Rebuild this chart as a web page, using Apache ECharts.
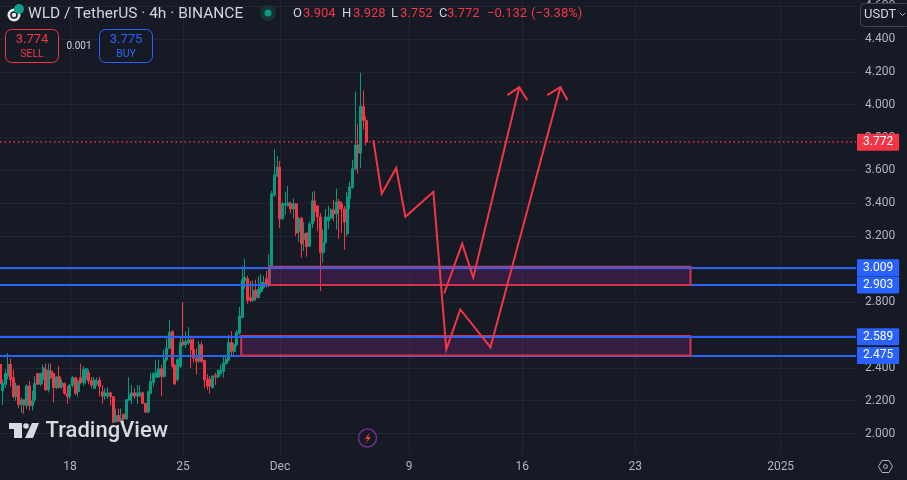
<!DOCTYPE html>
<html lang="en">
<head>
    <meta charset="UTF-8">
    <title>WLD / TetherUS</title>
    <script src="https://cdn.jsdelivr.net/npm/echarts@6/dist/echarts.min.js"></script>
    <style>
        html, body { margin: 0; padding: 0; background: #161a25; }
        #chart { width: 907px; height: 480px; }
    </style>
</head>
<body>
<div id="chart"></div>
<script type="text/javascript">
    // candles (4h bars, oldest first)
    var opens = [
        2.42,2.26,2.30,2.35,2.42,2.34,2.225,2.29,2.175,2.205,
        2.17,2.29,2.17,2.205,2.365,2.30,2.33,2.39,2.265,2.38,
        2.365,2.28,2.345,2.285,2.305,2.245,2.225,2.295,2.34,2.255,
        2.34,2.31,2.33,2.37,2.322,2.275,2.30,2.326,2.254,2.228,
        2.228,2.248,2.224,2.074,2.11,2.074,2.117,2.09,2.203,2.228,
        2.248,2.228,2.228,2.248,2.183,2.131,2.245,2.31,2.343,2.343,
        2.394,2.348,2.449,2.519,2.62,2.418,2.327,2.408,2.56,2.54,
        2.55,2.57,2.51,2.46,2.44,2.54,2.445,2.33,2.33,2.279,
        2.355,2.345,2.365,2.378,2.425,2.445,2.554,2.50,2.54,2.61,
        2.706,2.93,2.942,2.827,2.81,2.87,2.827,2.864,2.888,2.942,
        2.90,3.015,3.45,3.567,3.62,3.306,3.39,3.385,3.40,3.366,
        3.397,3.23,3.31,3.18,3.22,3.14,3.275,3.415,3.385,3.318,
        3.10,3.16,3.295,3.31,3.36,3.336,3.41,3.396,3.366,3.215,
        3.43,3.495,3.61,3.755,3.706,3.99,3.904
    ];
    var closes = [
        2.305,2.305,2.365,2.42,2.33,2.225,2.29,2.175,2.205,2.175,
        2.29,2.17,2.20,2.305,2.30,2.365,2.40,2.265,2.385,2.34,
        2.28,2.345,2.28,2.31,2.245,2.225,2.295,2.34,2.245,2.32,
        2.31,2.39,2.395,2.32,2.295,2.326,2.32,2.285,2.228,2.248,
        2.248,2.224,2.07,2.11,2.074,2.09,2.09,2.207,2.234,2.248,
        2.228,2.248,2.248,2.183,2.131,2.254,2.316,2.367,2.372,2.394,
        2.348,2.449,2.519,2.616,2.412,2.303,2.449,2.554,2.54,2.56,
        2.57,2.51,2.46,2.44,2.54,2.44,2.327,2.29,2.29,2.35,
        2.345,2.385,2.385,2.43,2.45,2.554,2.50,2.543,2.616,2.715,
        2.936,2.95,2.81,2.81,2.87,2.827,2.88,2.918,2.918,2.90,
        3.02,3.457,3.573,3.62,3.306,3.397,3.40,3.403,3.366,3.397,
        3.22,3.306,3.154,3.215,3.136,3.275,3.415,3.35,3.318,3.10,
        3.16,3.318,3.318,3.36,3.336,3.41,3.366,3.366,3.287,3.44,
        3.50,3.61,3.755,3.706,3.99,3.904,3.772
    ];
    var lows = [
        2.285,2.175,2.28,2.33,2.285,2.215,2.20,2.155,2.125,2.12,
        2.15,2.14,2.14,2.19,2.295,2.29,2.30,2.26,2.25,2.33,
        2.19,2.27,2.275,2.27,2.235,2.18,2.21,2.28,2.235,2.225,
        2.30,2.29,2.30,2.30,2.275,2.27,2.29,2.227,2.183,2.205,
        2.21,2.17,2.064,2.064,2.07,2.07,2.064,2.085,2.20,2.18,
        2.21,2.18,2.225,2.18,2.125,2.125,2.24,2.285,2.34,2.34,
        2.228,2.34,2.44,2.51,2.40,2.295,2.317,2.40,2.53,2.52,
        2.54,2.398,2.43,2.36,2.43,2.43,2.277,2.266,2.243,2.275,
        2.297,2.335,2.36,2.34,2.42,2.44,2.47,2.48,2.53,2.60,
        2.70,2.88,2.79,2.80,2.80,2.81,2.82,2.85,2.88,2.888,
        2.89,3.01,3.44,3.56,3.25,3.30,3.33,3.38,3.34,3.31,
        3.20,3.166,3.07,3.11,3.076,3.135,3.25,3.29,3.233,2.866,
        3.04,3.155,3.245,3.31,3.29,3.24,3.185,3.22,3.118,3.20,
        3.366,3.49,3.60,3.58,3.615,3.85,3.752
    ];
    var highs = [
        2.425,2.33,2.39,2.49,2.456,2.39,2.31,2.295,2.22,2.21,
        2.30,2.32,2.26,2.35,2.37,2.37,2.42,2.425,2.425,2.425,
        2.37,2.35,2.41,2.33,2.31,2.29,2.30,2.35,2.345,2.33,
        2.425,2.41,2.40,2.39,2.345,2.345,2.34,2.345,2.295,2.275,
        2.28,2.254,2.228,2.152,2.152,2.152,2.122,2.21,2.343,2.295,
        2.275,2.295,2.295,2.254,2.19,2.26,2.37,2.37,2.445,2.45,
        2.42,2.509,2.59,2.69,2.63,2.42,2.46,2.585,2.80,2.62,
        2.647,2.58,2.58,2.52,2.56,2.56,2.45,2.36,2.35,2.355,
        2.37,2.39,2.42,2.47,2.48,2.60,2.624,2.55,2.63,2.77,
        3.02,3.063,2.96,2.93,2.93,2.936,2.955,2.97,2.96,2.99,
        3.09,3.476,3.73,3.688,3.657,3.41,3.47,3.506,3.41,3.43,
        3.40,3.318,3.318,3.287,3.22,3.29,3.47,3.476,3.385,3.34,
        3.24,3.366,3.385,3.37,3.42,3.49,3.427,3.41,3.385,3.47,
        3.53,3.664,4.08,3.88,4.195,4.088,3.928
    ];

    var barCount = 319;
    var tickIndex = [26, 68, 104, 152, 194, 236, 290];
    var tickLabels = ['18', '25', 'Dec', '9', '16', '23', '2025'];
    var priceTicks = [2.0, 2.2, 2.4, 2.6, 2.8, 3.0, 3.2, 3.4, 3.6, 3.8, 4.0, 4.2, 4.4, 4.6];

    // horizontal levels and the drawn zones
    var lastPrice = 3.772;
    var upperLevels = [3.009, 2.589];
    var lowerLevels = [2.903, 2.475];
    var zoneUpper = [100, 256.5, 3.014, 2.903];
    var zoneLower = [89.6, 256.5, 2.594, 2.475];

    // hand drawn arrows, [bar index, price]
    var waveA = [[138.7,3.785],[141.8,3.458],[147.2,3.615],[150.6,3.318],[161,3.47],[165.8,2.512],[171,2.755],[182.2,2.524],[208.2,4.106]];
    var headA = [[203.3,4.058],[208.2,4.106],[210.8,4.027]];
    var waveB = [[165,2.852],[171.7,3.155],[175.8,2.948],[192.9,4.106]];
    var headB = [[188.5,4.058],[192.9,4.106],[195.9,4.027]];

    var categories = [];
    for (var i = 0; i < barCount; i++) {
        var t = tickIndex.indexOf(i);
        categories.push(t >= 0 ? tickLabels[t] : '');
    }
    var candles = opens.map(function (o, i) {
        return [o, closes[i], lows[i], highs[i]];
    });

    var UP = '#089981', DOWN = '#f23645', BLUE = '#2962ff', BG = '#161a25', GRID = '#232632';
    var FONT = 'Roboto';

    function isTick(index) {
        return tickIndex.indexOf(index) >= 0;
    }

    function tag(color) {
        return {
            show: true, position: 'end', distance: 1,
            formatter: function (p) { return p.value.toFixed(3); },
            color: '#fff', backgroundColor: color,
            fontFamily: FONT, fontSize: 12, lineHeight: 13,
            padding: [2, 6], borderRadius: 1
        };
    }

    function levelLines(values, z) {
        return {
            type: 'line', xAxisIndex: 1, yAxisIndex: 0, data: [], silent: true,
            markLine: {
                silent: true, symbol: 'none', z: z, animation: false, precision: 3,
                data: values.map(function (v) {
                    return {yAxis: v, label: tag(BLUE), lineStyle: {color: BLUE, width: 2, type: 'solid'}};
                })
            }
        };
    }

    function wave(data) {
        return {
            type: 'line', xAxisIndex: 1, yAxisIndex: 0, data: data, z: 6,
            symbol: 'none', silent: true,
            lineStyle: {color: DOWN, width: 2, join: 'miter'}
        };
    }

    function zone(z) {
        return [{coord: [z[0], z[2]]}, {coord: [z[1], z[3]]}];
    }

    function text(x, y, str, color, size, extra) {
        return {
            type: 'text', x: x, y: y, z: 100, silent: true,
            style: Object.assign({
                text: str, fill: color, fontFamily: FONT, fontSize: size, verticalAlign: 'middle'
            }, extra || {})
        };
    }

    function box(x, y, w, h, stroke, fill, r) {
        return {
            type: 'rect', z: 99, silent: true,
            shape: {x: x, y: y, width: w, height: h, r: r},
            style: {stroke: stroke, fill: fill, lineWidth: 1}
        };
    }

    function shape(type, sh, style, z) {
        return {type: type, shape: sh, style: style, z: z || 100, silent: true};
    }

    var overlay = [
        // symbol
        shape('circle', {cx: 14, cy: 15, r: 6.5}, {fill: '#e8e8ea'}),
        shape('circle', {cx: 14, cy: 15, r: 3}, {fill: 'none', stroke: '#161a25', lineWidth: 1.5}),
        shape('circle', {cx: 19, cy: 9, r: 5}, {fill: '#0f9d8a'}),
        text(28, 14, 'WLD / TetherUS · 4h · BINANCE', '#d1d4dc', 15.5),
        shape('circle', {cx: 268, cy: 13, r: 8}, {fill: '#17352f'}),
        shape('circle', {cx: 268, cy: 13, r: 3.5}, {fill: UP}),
        // OHLC
        text(293, 14, 'O', '#d1d4dc', 13), text(303, 14, '3.904', DOWN, 13),
        text(342, 14, 'H', '#d1d4dc', 13), text(353, 14, '3.928', DOWN, 13),
        text(391, 14, 'L', '#d1d4dc', 13), text(400, 14, '3.752', DOWN, 13),
        text(439, 14, 'C', '#d1d4dc', 13), text(447, 14, '3.772', DOWN, 13),
        text(487, 14, '−0.132', DOWN, 13), text(531, 14, '(−3.38%)', DOWN, 13),
        // sell / buy
        box(5.5, 29.5, 53, 33, DOWN, BG, 6),
        text(32, 40, '3.774', DOWN, 13, {align: 'center'}),
        text(32, 54, 'SELL', DOWN, 10.5, {align: 'center'}),
        text(79, 46, '0.001', '#d1d4dc', 10, {align: 'center'}),
        box(99.5, 29.5, 53, 33, BLUE, BG, 6),
        text(126, 40, '3.775', BLUE, 13, {align: 'center'}),
        text(126, 54, 'BUY', BLUE, 10.5, {align: 'center'}),
        // currency button
        box(860.5, 3.5, 50, 23, '#434651', BG, 4),
        text(864, 15, 'USDT', '#d1d4dc', 13),
        shape('polyline', {points: [[900, 13], [902.5, 15.5], [905, 13]]}, {stroke: '#b2b5be', fill: 'none', lineWidth: 1}),
        // watermark
        shape('polygon', {points: [[9, 423], [22, 423], [22, 438], [14, 438], [14, 429], [9, 429]]}, {fill: '#d9dae0'}),
        shape('circle', {cx: 26, cy: 426, r: 2.8}, {fill: '#d9dae0'}),
        shape('polygon', {points: [[32, 423], [39, 423], [33, 438], [25, 438]]}, {fill: '#d9dae0'}),
        text(45.5, 431.5, 'TradingView', '#d9dae0', 22, {fontWeight: 500}),
        // lightning
        shape('circle', {cx: 367.5, cy: 438, r: 9}, {fill: BG, stroke: '#6b2f80', lineWidth: 1.5}),
        shape('polygon', {points: [[370, 432], [365, 439], [368, 439], [365.5, 444], [371, 437], [368, 437]]}, {fill: DOWN}),
        // settings
        shape('polygon', {points: [[878.5, 466.5], [882, 460.5], [889, 460.5], [892.5, 466.5], [889, 472.5], [882, 472.5]]}, {fill: 'none', stroke: '#b2b5be', lineWidth: 1}),
        shape('circle', {cx: 885.5, cy: 466.5, r: 2}, {fill: 'none', stroke: '#b2b5be', lineWidth: 1})
    ];

    var myEcharts = echarts.init(document.getElementById('chart'));
    var option = {
        animation: false,
        backgroundColor: BG,
        textStyle: {fontFamily: FONT},
        grid: {left: 0, top: 0, width: 856, height: 454},
        xAxis: [
            {
                type: 'category',
                data: categories,
                boundaryGap: false,
                axisLine: {show: false},
                axisTick: {show: false},
                axisLabel: {
                    interval: isTick, color: '#b2b5be', fontSize: 12, margin: 7,
                    fontFamily: FONT, hideOverlap: false
                },
                splitLine: {show: true, interval: isTick, lineStyle: {color: GRID, width: 1}}
            },
            {type: 'value', min: 0, max: barCount - 1, show: false}
        ],
        yAxis: [
            {
                type: 'value',
                position: 'right',
                min: 1.876,
                max: 4.627,
                axisLine: {show: false},
                axisTick: {show: false},
                splitLine: {show: false},
                axisLabel: {
                    customValues: priceTicks,
                    margin: 9, color: '#b2b5be', fontSize: 12, fontFamily: FONT,
                    padding: [4, 0, 0, 0],
                    formatter: function (v) { return v.toFixed(3); }
                }
            }
        ],
        series: [
            {
                // background grid
                type: 'line', xAxisIndex: 1, yAxisIndex: 0, data: [], silent: true,
                markLine: {
                    silent: true, symbol: 'none', z: 1, animation: false,
                    label: {show: false},
                    lineStyle: {color: GRID, width: 1, type: 'solid'},
                    data: priceTicks.map(function (v) { return {yAxis: v}; })
                }
            },
            {
                type: 'candlestick',
                xAxisIndex: 0, yAxisIndex: 0,
                data: candles,
                barWidth: 2.5,
                silent: true,
                z: 2,
                itemStyle: {color: UP, color0: DOWN, borderColor: UP, borderColor0: DOWN, borderWidth: 1}
            },
            levelLines(lowerLevels, 3),
            {
                // zones sit over the lower level and under the upper one
                type: 'line', xAxisIndex: 1, yAxisIndex: 0, data: [], silent: true,
                markArea: {
                    silent: true, z: 4,
                    itemStyle: {color: 'rgba(142,38,153,0.25)', borderColor: '#d23450', borderWidth: 2},
                    data: [zone(zoneUpper), zone(zoneLower)]
                }
            },
            levelLines(upperLevels, 5),
            {
                // last price
                type: 'line', xAxisIndex: 1, yAxisIndex: 0, data: [], silent: true,
                markLine: {
                    silent: true, symbol: 'none', z: 5, animation: false, precision: 3,
                    data: [{
                        yAxis: lastPrice, label: tag(DOWN),
                        lineStyle: {color: DOWN, width: 1.5, type: [1.5, 3]}
                    }]
                }
            },
            wave(waveA),
            wave(headA),
            wave(waveB),
            wave(headB)
        ],
        graphic: {elements: overlay}
    };
    myEcharts.setOption(option);
</script>
</body>
</html>
